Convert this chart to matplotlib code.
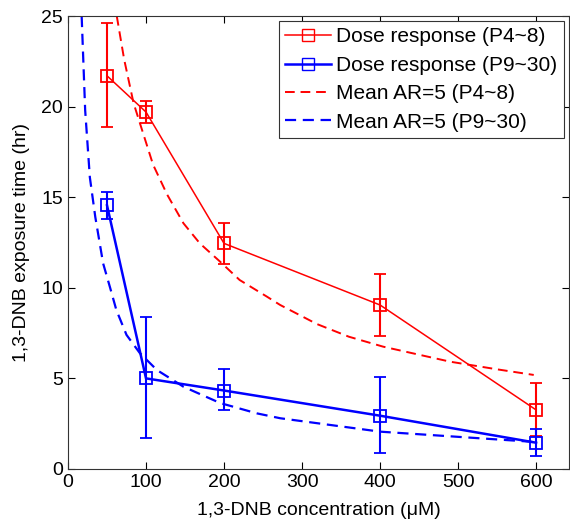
import numpy as np
import matplotlib
matplotlib.use('Agg')
import matplotlib.pyplot as plt
from matplotlib.lines import Line2D

plt.rcParams['font.family'] = ['Liberation Sans', 'DejaVu Sans']

# 剂量响应数据（均值与误差上下限）
conc = [50, 100, 200, 400, 600]
red_mean = [21.7, 19.7, 12.45, 9.05, 3.26]
red_hi = [24.6, 20.3, 13.6, 10.78, 4.73]
red_lo = [18.9, 19.1, 11.3, 7.32, 1.8]
blue_mean = [14.55, 5.0, 4.33, 2.94, 1.45]
blue_hi = [15.3, 8.41, 5.5, 5.06, 2.2]
blue_lo = [13.8, 1.69, 3.26, 0.87, 0.73]

# 平均 AR=5 曲线（从图中读取的点）
red_ar_x = [62.5, 72, 84, 95, 109, 127, 148, 169, 195, 220, 255, 272, 319, 360, 404, 490, 550, 597]
red_ar_y = [25.0, 22.6, 20.2, 18.7, 16.8, 15.15, 13.56, 12.45, 11.44, 10.43, 9.51, 9.05, 8.0, 7.3, 6.75, 5.92, 5.5, 5.19]
blue_ar_x = [17.5, 22, 28, 35, 45, 54, 62, 75, 92, 114, 148, 195, 242, 272, 400, 592, 600]
blue_ar_y = [25.0, 19.8, 16.1, 13.9, 11.35, 10.0, 8.77, 7.4, 6.4, 5.46, 4.54, 3.64, 3.07, 2.8, 2.06, 1.51, 1.45]

fig = plt.figure(figsize=(5.7, 5.23), dpi=100)
ax = fig.add_axes([0.1193, 0.1033, 0.8787, 0.8661])

red_err = [np.array(red_mean) - np.array(red_lo), np.array(red_hi) - np.array(red_mean)]
blue_err = [np.array(blue_mean) - np.array(blue_lo), np.array(blue_hi) - np.array(blue_mean)]

ax.errorbar(conc, red_mean, yerr=red_err, color='red', lw=1.1, elinewidth=1.5,
            capsize=4, capthick=1.5, marker='s', ms=8.5, mfc='none', mew=1.3)
ax.errorbar(conc, blue_mean, yerr=blue_err, color='blue', lw=1.8, elinewidth=1.5,
            capsize=4, capthick=1.5, marker='s', ms=8.5, mfc='none', mew=1.3)
ax.plot(red_ar_x, red_ar_y, color='red', lw=1.4, dashes=(5, 3))
ax.plot(blue_ar_x, blue_ar_y, color='blue', lw=1.6, dashes=(5, 3))

ax.set_xlim(0, 642)
ax.set_ylim(0, 25)
ax.set_xticks([0, 100, 200, 300, 400, 500, 600])
ax.set_yticks([0, 5, 10, 15, 20, 25])
ax.tick_params(direction='in', top=True, right=True, length=5, labelsize=14, width=0.8)
for s in ax.spines.values():
    s.set_color('#333333')
    s.set_linewidth(0.8)

ax.set_xlabel('1,3-DNB concentration (\u03bcM)', fontsize=14, labelpad=8)
ax.set_ylabel('1,3-DNB exposure time (hr)', fontsize=14, labelpad=8)

handles = [
    Line2D([], [], color='red', lw=1.1, marker='s', ms=8.5, mfc='none', mew=1.0),
    Line2D([], [], color='blue', lw=1.8, marker='s', ms=8.5, mfc='none', mew=1.0),
    Line2D([], [], color='red', lw=1.4, dashes=(5, 3)),
    Line2D([], [], color='blue', lw=1.6, dashes=(5, 3)),
]
labels = ['Dose response (P4~8)', 'Dose response (P9~30)',
          'Mean AR=5 (P4~8)', 'Mean AR=5 (P9~30)']
leg = ax.legend(handles, labels, loc='upper right', fontsize=15, fancybox=False,
                edgecolor='#333333', framealpha=1, handlelength=2.2,
                handletextpad=0.25, labelspacing=0.45, borderpad=0.3,
                borderaxespad=0.25)
leg.get_frame().set_linewidth(0.8)

fig.savefig('out.png', dpi=100)
